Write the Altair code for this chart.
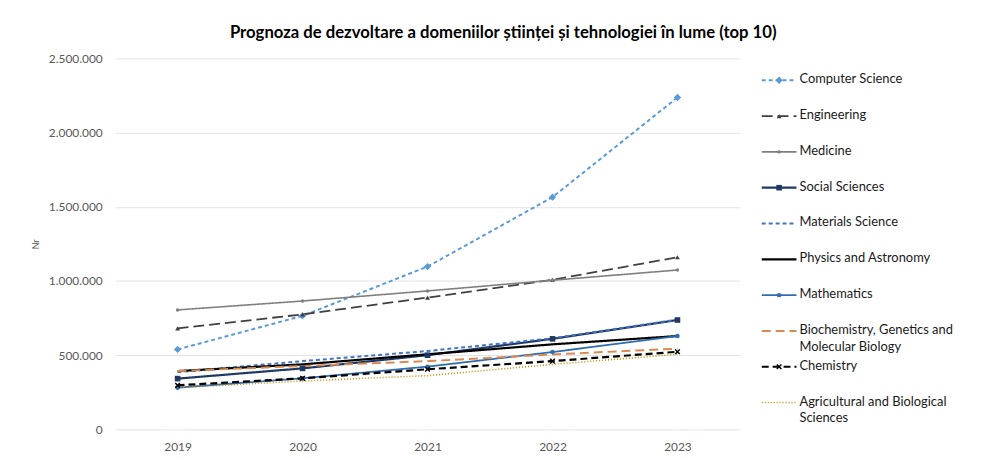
import altair as alt
import pandas as pd

years = ["2019", "2020", "2021", "2022", "2023"]

series = [
    "Computer Science",
    "Engineering",
    "Medicine",
    "Social Sciences",
    "Materials Science",
    "Physics and Astronomy",
    "Mathematics",
    "Biochemistry, Genetics and Molecular Biology",
    "Chemistry",
    "Agricultural and Biological Sciences",
]
legend_labels = [
    "Computer Science",
    "Engineering",
    "Medicine",
    "Social Sciences",
    "Materials Science",
    "Physics and Astronomy",
    "Mathematics",
    "Biochemistry, Genetics and\nMolecular Biology",
    "Chemistry",
    "Agricultural and Biological\nSciences",
]

computer_science = [539000, 765000, 1097000, 1565000, 2237000]
engineering = [681000, 775000, 888000, 1008000, 1160000]
medicine = [805000, 865000, 933000, 1005000, 1074000]
social_sciences = [342000, 411000, 500000, 610000, 737000]
materials_science = [385000, 460000, 528000, 614000, 740000]
physics_astronomy = [393000, 438000, 506000, 573000, 629000]
mathematics = [281000, 344000, 423000, 521000, 629000]
biochemistry = [393000, 427000, 460000, 505000, 544000]
chemistry = [297000, 344000, 405000, 460000, 523000]
agricultural = [281000, 326000, 362000, 438000, 506000]

values = [computer_science, engineering, medicine, social_sciences, materials_science,
          physics_astronomy, mathematics, biochemistry, chemistry, agricultural]

colors = ["#5B9BD5", "#404040", "#7F7F7F", "#203864", "#4472C4",
          "#000000", "#2E6DB0", "#D98A52", "#000000", "#BF9000"]
dashes = [[4, 3], [11, 5], [1, 0], [1, 0], [4, 3],
          [1, 0], [1, 0], [9, 5], [7, 4], [1, 2]]
widths = [2, 1.8, 1.6, 2.2, 2, 2.2, 1.8, 2, 2.2, 1.6]

marker_series = ["Computer Science", "Engineering", "Medicine", "Social Sciences", "Mathematics"]
marker_shapes = ["diamond", "triangle-up", "circle", "square", "circle"]
marker_sizes = [55, 24, 12, 32, 20]
marker_colors = ["#5B9BD5", "#404040", "#7F7F7F", "#203864", "#2E6DB0"]

rows = []
for s, vals in zip(series, values):
    for y, v in zip(years, vals):
        rows.append({"year": y, "series": s, "value": v})
df = pd.DataFrame(rows)

FONT = "Lato"

color_enc = alt.Color("series:N", scale=alt.Scale(domain=series, range=colors), legend=None)
dash_enc = alt.StrokeDash("series:N", scale=alt.Scale(domain=series, range=dashes), legend=None)
width_enc = alt.StrokeWidth("series:N", scale=alt.Scale(type="ordinal", domain=series, range=widths), legend=None)
shape_enc = alt.Shape("series:N", scale=alt.Scale(domain=marker_series, range=marker_shapes), legend=None)
size_enc = alt.Size("series:N", scale=alt.Scale(type="ordinal", domain=marker_series, range=marker_sizes), legend=None)
mcolor_enc = alt.Color("series:N", scale=alt.Scale(domain=marker_series, range=marker_colors), legend=None)

x_enc = alt.X("year:O", sort=years,
              scale=alt.Scale(type="point", padding=0.5),
              axis=alt.Axis(title=None, labelAngle=0, domain=False, ticks=False,
                            labelColor="#595959", labelFontSize=12, labelPadding=12,
                            labelFont=FONT))
y_enc = alt.Y("value:Q",
              scale=alt.Scale(domain=[0, 2500000], nice=False),
              axis=alt.Axis(title="Nr", values=[0, 500000, 1000000, 1500000, 2000000, 2500000],
                            labelExpr="replace(format(datum.value, ',d'), regexp(',', 'g'), '.')",
                            domain=False, ticks=False, grid=True, gridColor="#E3E3E3",
                            labelColor="#595959", labelFontSize=12, labelPadding=13,
                            labelFont=FONT, titleFont=FONT, titleFontSize=9,
                            titleFontWeight="normal", titleColor="#595959", titlePadding=8))

base = alt.Chart(df)
lines = base.mark_line().encode(x=x_enc, y=y_enc, color=color_enc,
                                strokeDash=dash_enc, strokeWidth=width_enc)

pts = base.transform_filter(
    alt.FieldOneOfPredicate(field="series", oneOf=marker_series)
).mark_point(filled=True, opacity=1).encode(
    x=x_enc, y=y_enc, shape=shape_enc, size=size_enc, color=mcolor_enc)

xshape = "M-1,-1L1,1M-1,1L1,-1"
chem_pts = base.transform_filter(
    alt.FieldEqualPredicate(field="series", equal="Chemistry")
).mark_point(shape=xshape, filled=False, size=22, strokeWidth=1.5, color="#000000", opacity=1).encode(
    x=x_enc, y=y_enc)

main = alt.layer(lines, pts, chem_pts).resolve_scale(
    color="independent", size="independent", shape="independent"
).properties(width=630, height=374)

# legend panel
seg_rows = []
for s in series:
    for lx in [0, 35]:
        seg_rows.append({"series": s, "lx": lx})
seg_df = pd.DataFrame(seg_rows)
lab_df = pd.DataFrame({"series": series, "label": legend_labels, "tx": [38] * len(series)})
mk_df = pd.DataFrame({"series": marker_series, "mx": [17.5] * len(marker_series)})
chem_df = pd.DataFrame({"series": ["Chemistry"], "mx": [17.5]})

ly = alt.Y("series:N", sort=series,
           scale=alt.Scale(type="point", domain=series, range=[22, 347], padding=0), axis=None)
lxscale = alt.Scale(domain=[0, 215], nice=False)

leg_lines = alt.Chart(seg_df).mark_line().encode(
    x=alt.X("lx:Q", scale=lxscale, axis=None), y=ly, color=color_enc,
    strokeDash=dash_enc, strokeWidth=width_enc, detail="series:N")
leg_pts = alt.Chart(mk_df).mark_point(filled=True, opacity=1).encode(
    x=alt.X("mx:Q", scale=lxscale, axis=None), y=ly,
    shape=shape_enc, size=size_enc, color=mcolor_enc)
leg_chem = alt.Chart(chem_df).mark_point(shape=xshape, filled=False, size=22, strokeWidth=1.5,
                                          color="#000000", opacity=1).encode(
    x=alt.X("mx:Q", scale=lxscale, axis=None), y=ly)
leg_text = alt.Chart(lab_df).mark_text(align="left", baseline="top", dy=-7, lineBreak="\n",
                                       lineHeight=17, font=FONT, fontSize=13, color="#1A1A1A").encode(
    x=alt.X("tx:Q", scale=lxscale, axis=None), y=ly, text="label:N")

legend = alt.layer(leg_lines, leg_pts, leg_chem, leg_text).resolve_scale(
    color="independent", size="independent", shape="independent"
).properties(width=215, height=374)

chart = alt.hconcat(main, legend, spacing=17).properties(
    title=alt.TitleParams("Prognoza de dezvoltare a domeniilor științei și tehnologiei în lume (top 10)",
                          font=FONT, fontSize=16.8, fontWeight="bold", color="#000000",
                          anchor="middle", offset=11),
    padding={"left": 23, "top": 15, "right": 0, "bottom": 0},
).configure(font=FONT, view=alt.ViewConfig(stroke="transparent", strokeWidth=0))

chart.save("out.html", embed_options={"renderer": "svg", "actions": False})
